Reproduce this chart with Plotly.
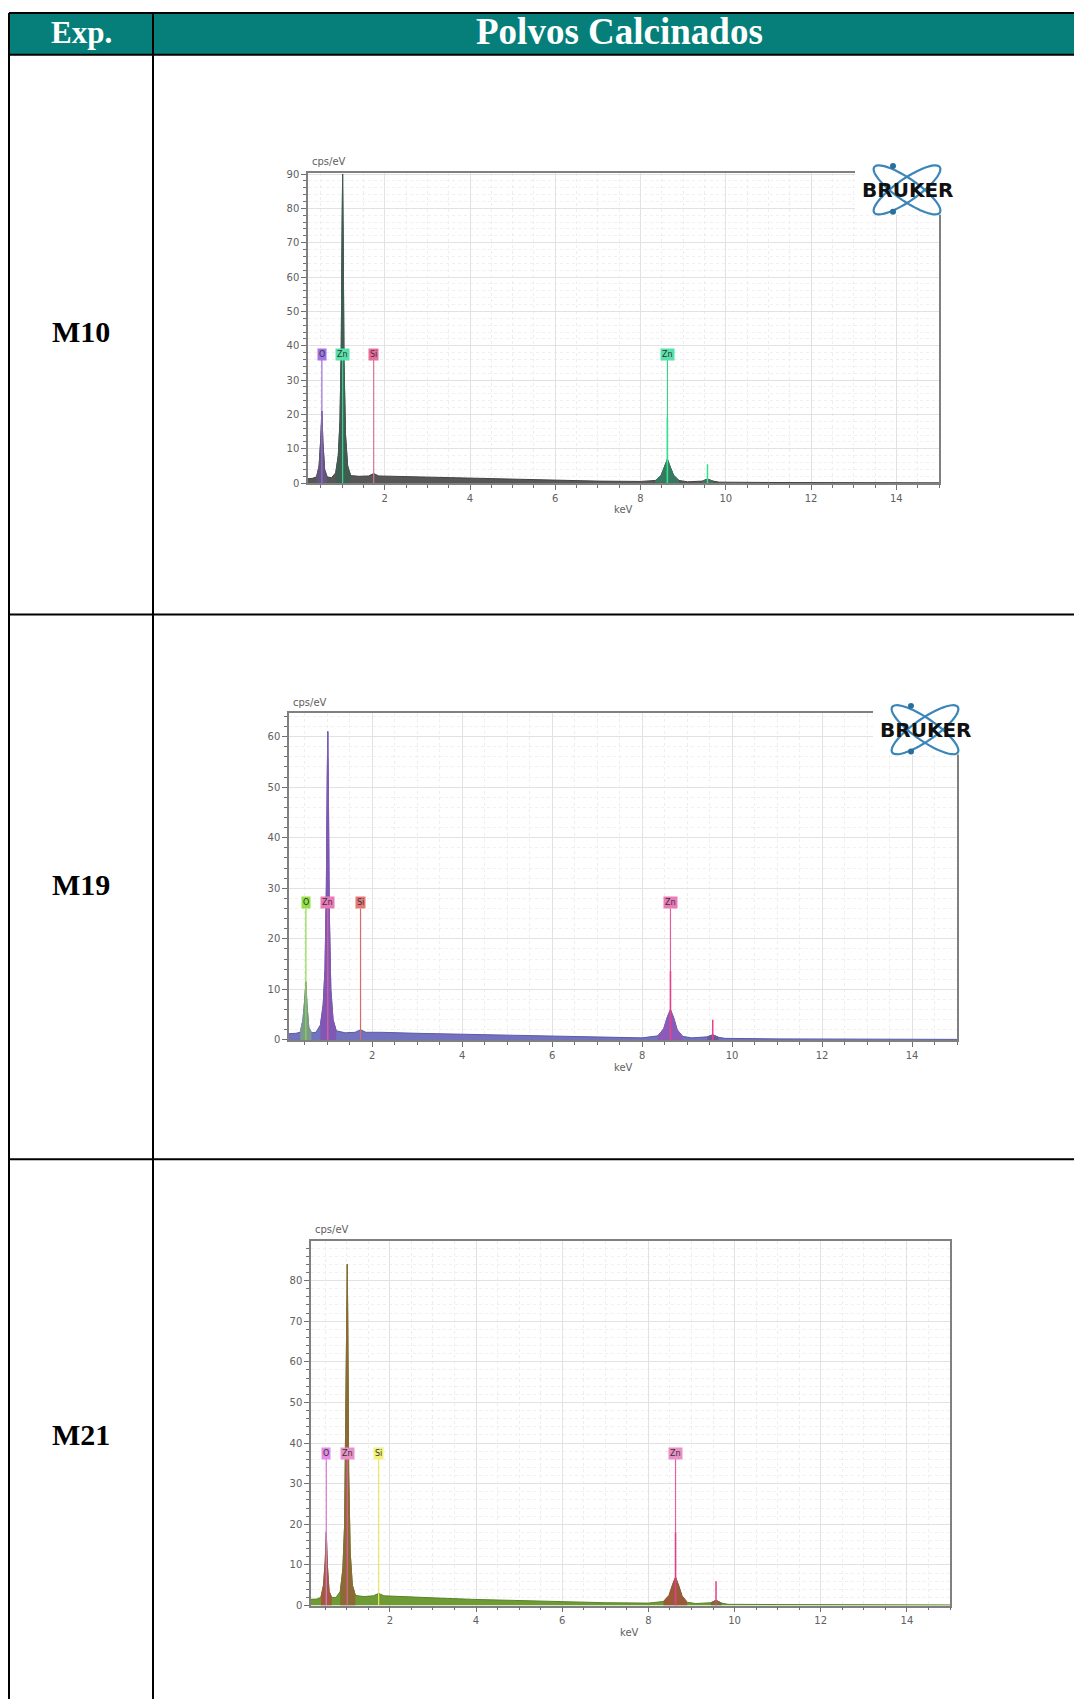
import numpy as np
import plotly.graph_objects as go

W, H = 1074, 1705

# ---------------------------------------------------------------- data
header_exp = "Exp."
header_title = "Polvos Calcinados"
samples = ["M10", "M19", "M21"]

# EDS spectra: energy (keV) and intensity (cps/eV)
kev = [0.10, 0.30, 0.40, 0.46, 0.50, 0.525, 0.55, 0.59, 0.65, 0.75,
       0.85, 0.91, 0.95, 0.98, 1.00, 1.012, 1.025, 1.045, 1.08, 1.13,
       1.20, 1.40, 1.62, 1.74, 1.86, 2.2, 3.0, 4.0, 5.0, 6.0,
       7.0, 8.0, 8.35, 8.48, 8.56, 8.63, 8.70, 8.78, 8.90, 9.10,
       9.45, 9.57, 9.70, 9.85, 11.0, 13.0, 15.0]

m10_cps = [1.2, 1.4, 1.8, 5, 13, 21, 12, 4, 1.8, 1.6,
           3, 8, 18, 40, 75, 90, 72, 35, 14, 5,
           2.2, 2.0, 2.1, 2.8, 2.1, 2.0, 1.7, 1.3, 1.0, 0.8,
           0.6, 0.5, 0.8, 2.2, 4.8, 7.0, 4.6, 2.2, 0.8, 0.4,
           0.6, 1.2, 0.6, 0.3, 0.2, 0.15, 0.1]

m19_cps = [1.2, 1.3, 1.5, 4, 8, 11.5, 7, 2.5, 1.4, 1.5,
           3, 7, 14, 30, 52, 61, 50, 26, 10, 4,
           1.8, 1.4, 1.5, 2.0, 1.5, 1.5, 1.3, 1.1, 0.9, 0.7,
           0.5, 0.4, 0.8, 2.2, 4.5, 6.0, 4.4, 2.0, 0.7, 0.4,
           0.6, 1.0, 0.5, 0.3, 0.2, 0.15, 0.1]

m21_cps = [1.5, 1.6, 2.0, 5, 11, 18, 10, 3.5, 2.0, 2.0,
           3.5, 9, 20, 45, 72, 84, 68, 33, 13, 5,
           2.5, 2.2, 2.4, 3.0, 2.4, 2.2, 1.9, 1.5, 1.2, 0.9,
           0.7, 0.6, 1.0, 2.5, 5.2, 7.0, 5.0, 2.4, 0.8, 0.5,
           0.7, 1.3, 0.6, 0.3, 0.25, 0.2, 0.15]

# identified element lines (labels) and their energies
element_names = ["O", "Zn", "Si", "Zn"]
element_kev = [0.525, 1.012, 1.74, 8.63]

# Zn K line intensities (Ka, Kb)
zn_k_kev = [8.63, 9.57]
m10_zn_k_cps = [19, 5.5]
m19_zn_k_cps = [13.6, 4]
m21_zn_k_cps = [18, 6]

# energy windows of the deconvolved peaks
peak_windows = {"O": (0.40, 0.65), "ZnL": (0.85, 1.20),
                "ZnKa": (8.35, 8.90), "ZnKb": (9.45, 9.70)}


def px(x):
    return x / W


def py(y):
    return 1 - y / H


# ---------------------------------------------------------------- panels
panels = [
    dict(cps=m10_cps, zn=m10_zn_k_cps,
         box=(308, 939, 170, 482), xr=[0.2, 15], yr=[0, 90.3],
         label_level=37.5,
         base_fill="#575757", base_line="#444444",
         peak_fill={"O": "#62567a", "ZnL": "#3f5e52", "ZnKa": "#357a60", "ZnKb": "#4a6a5c"},
         el_color=["#a274e6", "#58e2aa", "#e86e9e", "#58e2aa"],
         el_line=["#9a6fd8", "#3fd08e", "#e0709a", "#3fd08e"],
         zn_line="#2fe08c",
         cps_lbl=(310, 166), kev_lbl=(623, 508),
         logo=(907, 187)),
    dict(cps=m19_cps, zn=m19_zn_k_cps,
         box=(289, 957, 713, 1042), xr=[0.15, 15], yr=[0, 64.7],
         label_level=27.2,
         base_fill="#7272be", base_line="#5a5aa8",
         peak_fill={"O": "#7b9a8c", "ZnL": "#8058b4", "ZnKa": "#8a5cb8", "ZnKb": "#6a5a9a"},
         el_color=["#92e044", "#ea7ab8", "#e87878", "#ea7ab8"],
         el_line=["#88d848", "#e0609a", "#d86a6a", "#e0609a"],
         zn_line="#e8408a",
         cps_lbl=(291, 710), kev_lbl=(623, 1070),
         logo=(925, 730)),
    dict(cps=m21_cps, zn=m21_zn_k_cps,
         box=(311, 950, 1244, 1611), xr=[0.17, 15], yr=[0, 89.8],
         label_level=37.4,
         base_fill="#6e9b34", base_line="#5a8428",
         peak_fill={"O": "#a4583c", "ZnL": "#8c6a34", "ZnKa": "#9a5a38", "ZnKb": "#7a6a3a"},
         el_color=["#e58ae8", "#ea90c8", "#f2f27a", "#ea90c8"],
         el_line=["#d878d8", "#e060a0", "#e8e860", "#e060a0"],
         zn_line="#e0408a",
         cps_lbl=(313, 1240), kev_lbl=(629, 1638),
         logo=None),
]

fig = go.Figure()
shapes = []
annotations = []

tick_font = dict(family="DejaVu Sans", size=10, color="#606060")

for i, p in enumerate(panels):
    n = "" if i == 0 else str(i + 1)
    xa, ya = "x" + n, "y" + n
    x0, x1, y0, y1 = p["box"]

    # full spectrum
    fig.add_trace(go.Scatter(x=kev, y=p["cps"], mode="lines", fill="tozeroy",
                             fillcolor=p["base_fill"],
                             line=dict(color=p["base_line"], width=1),
                             xaxis=xa, yaxis=ya, showlegend=False, hoverinfo="skip"))
    # deconvolved element peaks
    for key, (lo, hi) in peak_windows.items():
        sx = [e for e in kev if lo <= e <= hi]
        sy = [c for e, c in zip(kev, p["cps"]) if lo <= e <= hi]
        fig.add_trace(go.Scatter(x=sx, y=sy, mode="lines", fill="tozeroy",
                                 fillcolor=p["peak_fill"][key],
                                 line=dict(color=p["peak_fill"][key], width=1),
                                 xaxis=xa, yaxis=ya, showlegend=False, hoverinfo="skip"))
    # element marker lines and labels
    for name, e, col, lcol in zip(element_names, element_kev, p["el_color"], p["el_line"]):
        fig.add_trace(go.Scatter(x=[e, e], y=[0, p["label_level"] - 1.2], mode="lines",
                                 line=dict(color=lcol, width=1.2),
                                 xaxis=xa, yaxis=ya, showlegend=False, hoverinfo="skip"))
        annotations.append(dict(x=e, y=p["label_level"], xref=xa, yref=ya, text=name,
                                showarrow=False, bgcolor=col, borderpad=1,
                                xanchor="center", yanchor="middle",
                                font=dict(family="DejaVu Sans", size=8, color="#333333")))
    # Zn K line intensities
    for e, c in zip(zn_k_kev, p["zn"]):
        fig.add_trace(go.Scatter(x=[e, e], y=[0, c], mode="lines",
                                 line=dict(color=p["zn_line"], width=1.5),
                                 xaxis=xa, yaxis=ya, showlegend=False, hoverinfo="skip"))

    axis_common = dict(showline=True, linecolor="#808080", linewidth=1.5, mirror=True,
                       ticks="outside", tickcolor="#707070", ticklen=5, tickwidth=1,
                       tickfont=tick_font, zeroline=False,
                       showgrid=True, gridcolor="#e2e2e2", gridwidth=1)
    fig.update_layout(**{
        ("xaxis" + n): dict(domain=[px(x0), px(x1)], range=p["xr"], anchor=ya,
                            tick0=0, dtick=2,
                            minor=dict(dtick=0.5, ticklen=3, tickcolor="#707070",
                                       showgrid=True, gridcolor="#eeeeee", griddash="dot"),
                            **axis_common),
        ("yaxis" + n): dict(domain=[py(y1), py(y0)], range=p["yr"], anchor=xa,
                            tick0=0, dtick=10,
                            minor=dict(dtick=2, ticklen=3, tickcolor="#707070",
                                       showgrid=True, gridcolor="#f0f0f0", griddash="dot"),
                            **axis_common),
    })

    annotations.append(dict(x=px(p["cps_lbl"][0]), y=py(p["cps_lbl"][1]), xref="paper", yref="paper",
                            text="cps/eV", showarrow=False, xanchor="left", yanchor="bottom",
                            font=dict(family="DejaVu Sans", size=10, color="#606060")))
    annotations.append(dict(x=px(p["kev_lbl"][0]), y=py(p["kev_lbl"][1]), xref="paper", yref="paper",
                            text="keV", showarrow=False, xanchor="center", yanchor="middle",
                            font=dict(family="DejaVu Sans", size=10, color="#606060")))

    # vendor logo over the top-right corner of the frame
    if p["logo"] is not None:
        cx, cy = p["logo"]
        shapes.append(dict(type="rect", xref="paper", yref="paper",
                           x0=px(cx - 52), x1=px(cx + 70), y0=py(cy + 25), y1=py(cy - 30),
                           fillcolor="white", line=dict(width=0), layer="above"))
        t = np.linspace(0, 2 * np.pi, 72)
        for ang in (np.radians(35), np.radians(-35)):
            ex = cx + 40 * np.cos(t) * np.cos(ang) - 11 * np.sin(t) * np.sin(ang)
            ey = cy + 40 * np.cos(t) * np.sin(ang) + 11 * np.sin(t) * np.cos(ang)
            path = "M " + " L ".join(f"{px(a):.5f},{py(b):.5f}" for a, b in zip(ex, ey)) + " Z"
            shapes.append(dict(type="path", path=path, xref="paper", yref="paper",
                               line=dict(color="#3a86b8", width=2.2), layer="above"))
        for dy in (-24, 22):
            shapes.append(dict(type="circle", xref="paper", yref="paper",
                               x0=px(cx - 17), x1=px(cx - 11), y0=py(cy + dy + 3), y1=py(cy + dy - 3),
                               fillcolor="#2a6f9c", line=dict(width=0), layer="above"))
        annotations.append(dict(x=px(cx), y=py(cy), xref="paper", yref="paper",
                                text="<b>BRUKER</b>", showarrow=False,
                                xanchor="center", yanchor="middle",
                                font=dict(family="DejaVu Sans", size=20, color="#111111")))

# ---------------------------------------------------------------- table frame
TEAL = "#067f7b"
left, right, top, head_bot, col_div = 9, 1074, 9, 51, 153
row_lines = [614, 1162]
shapes.append(dict(type="rect", xref="paper", yref="paper",
                   x0=px(left), x1=px(right), y0=py(head_bot), y1=py(top),
                   fillcolor=TEAL, line=dict(width=0), layer="below"))
line_style = dict(color="black", width=2)
for yy in [top, head_bot] + row_lines:
    shapes.append(dict(type="line", xref="paper", yref="paper",
                       x0=px(left), x1=px(right), y0=py(yy), y1=py(yy), line=line_style))
for xx in (left, col_div):
    shapes.append(dict(type="line", xref="paper", yref="paper",
                       x0=px(xx), x1=px(xx), y0=py(top), y1=py(H), line=line_style))

serif = "Liberation Serif, Times New Roman, serif"
text_common = dict(xref="paper", yref="paper", showarrow=False,
                   xanchor="center", yanchor="middle")
annotations.append(dict(x=px((left + col_div) / 2), y=py(29),
                        text=f"<b>{header_exp}</b>",
                        font=dict(family=serif, size=31, color="white"), **text_common))
annotations.append(dict(x=px(620), y=py(28),
                        text=f"<b>{header_title}</b>",
                        font=dict(family=serif, size=37, color="white"), **text_common))
for name, yy in zip(samples, [329, 886, 1439]):
    annotations.append(dict(x=px((left + col_div) / 2), y=py(yy),
                            text=f"<b>{name}</b>",
                            font=dict(family=serif, size=30, color="black"), **text_common))

fig.update_layout(width=W, height=H, margin=dict(l=0, r=0, t=0, b=0),
                  paper_bgcolor="white", plot_bgcolor="white",
                  shapes=shapes, annotations=annotations, showlegend=False)

fig.write_html("out.html")
